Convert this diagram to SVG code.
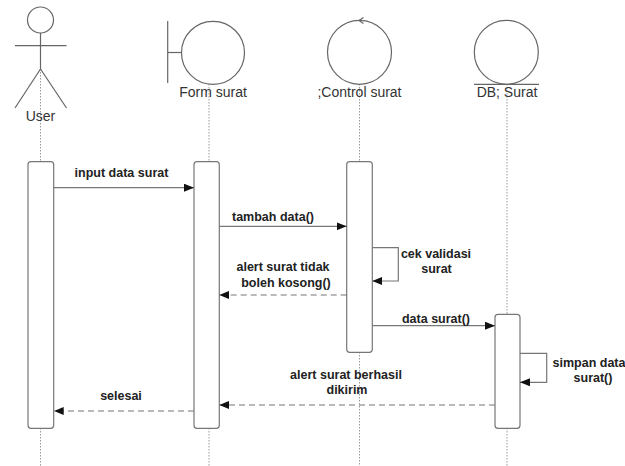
<svg xmlns="http://www.w3.org/2000/svg" width="625" height="466" viewBox="0 0 625 466">
<style>
.bg{fill:#fff}
.icon{fill:none;stroke:#666;stroke-width:1.2}
.life{fill:none;stroke:#999;stroke-width:1;stroke-dasharray:1.5,1.5}
.act{fill:#fff;stroke:#777;stroke-width:1.2}
.name{font-family:"Liberation Sans",Arial,sans-serif;font-size:14px;fill:#333}
.lbl{font-family:"Liberation Sans",Arial,sans-serif;font-size:12.5px;font-weight:bold;fill:#222}
.msg{fill:none;stroke:#777;stroke-width:1.2}
.ret{fill:none;stroke:#777;stroke-width:1.2;stroke-dasharray:6,4}
</style>
<defs>
<marker id="ah" viewBox="0 0 10 8" refX="10" refY="4" markerWidth="10" markerHeight="8" markerUnits="userSpaceOnUse" orient="auto">
<path d="M0,0 L10,4 L0,8 Z" fill="#111"/>
</marker>
</defs>
<rect class="bg" x="0" y="0" width="625" height="466"/>

<g id="lifelines">
<line class="life" x1="40.5" y1="69" x2="40.5" y2="162"/>
<line class="life" x1="40.5" y1="428" x2="40.5" y2="466"/>
<line class="life" x1="209" y1="84" x2="209" y2="162"/>
<line class="life" x1="209" y1="428" x2="209" y2="466"/>
<line class="life" x1="359.5" y1="84" x2="359.5" y2="162"/>
<line class="life" x1="359.5" y1="352" x2="359.5" y2="466"/>
<line class="life" x1="507" y1="84" x2="507" y2="314"/>
<line class="life" x1="507" y1="428" x2="507" y2="466"/>
</g>

<g id="user">
<circle class="icon" cx="40.5" cy="20" r="13"/>
<line class="icon" x1="40.5" y1="33" x2="40.5" y2="69"/>
<line class="icon" x1="15" y1="45.7" x2="66.5" y2="45.7"/>
<line class="icon" x1="40.5" y1="69" x2="15" y2="108"/>
<line class="icon" x1="40.5" y1="69" x2="66.5" y2="108"/>
<text class="name" x="40.5" y="121" text-anchor="middle">User</text>
</g>

<g id="form-surat">
<circle class="icon" cx="213" cy="52.8" r="31.5"/>
<line class="icon" x1="167.7" y1="21" x2="167.7" y2="83"/>
<line class="icon" x1="167.7" y1="52.5" x2="181.5" y2="52.5"/>
<text class="name" x="213" y="97" text-anchor="middle">Form surat</text>
</g>

<g id="control-surat">
<circle class="icon" cx="359.5" cy="52.3" r="32"/>
<path class="icon" d="M363.5,17.5 L359,20.5 L363.5,23.5"/>
<text class="name" x="359.5" y="97" text-anchor="middle">;Control surat</text>
</g>

<g id="db-surat">
<circle class="icon" cx="506.3" cy="52.3" r="32"/>
<line class="icon" x1="474" y1="84.3" x2="539" y2="84.3"/>
<text class="name" x="507" y="97" text-anchor="middle">DB; Surat</text>
</g>

<g id="activations">
<rect class="act" x="28" y="161.7" width="25.7" height="266.6" rx="3"/>
<rect class="act" x="194" y="161.7" width="25.3" height="266.6" rx="3"/>
<rect class="act" x="346.7" y="161.7" width="25.6" height="190.6" rx="3"/>
<rect class="act" x="495" y="314.3" width="25" height="114" rx="3"/>
</g>

<g id="connectors">
<line class="msg" x1="53.7" y1="187.7" x2="194" y2="187.7" marker-end="url(#ah)"/>
<line class="msg" x1="219.3" y1="226.3" x2="346.7" y2="226.3" marker-end="url(#ah)"/>
<path class="msg" d="M372.3,247.7 H398.3 V281 H372.3" marker-end="url(#ah)"/>
<line class="ret" x1="346.7" y1="295" x2="219.3" y2="295" marker-end="url(#ah)"/>
<line class="msg" x1="372.3" y1="325.7" x2="495" y2="325.7" marker-end="url(#ah)"/>
<path class="msg" d="M520,353.3 H546.7 V382.3 H520" marker-end="url(#ah)"/>
<line class="ret" x1="495" y1="405" x2="219.3" y2="405" marker-end="url(#ah)"/>
<line class="ret" x1="194" y1="411" x2="53.7" y2="411" marker-end="url(#ah)"/>
</g>

<g id="labels">
<text class="lbl" x="121.5" y="177" text-anchor="middle">input data surat</text>
<text class="lbl" x="232" y="221">tambah data()</text>
<text class="lbl" x="436" y="258" text-anchor="middle">cek validasi</text>
<text class="lbl" x="436.5" y="273" text-anchor="middle">surat</text>
<text class="lbl" x="283" y="271" text-anchor="middle">alert surat tidak</text>
<text class="lbl" x="286" y="286.5" text-anchor="middle">boleh kosong()</text>
<text class="lbl" x="436" y="322.5" text-anchor="middle">data surat()</text>
<text class="lbl" x="589" y="367" text-anchor="middle">simpan data</text>
<text class="lbl" x="593" y="382" text-anchor="middle">surat()</text>
<text class="lbl" x="346" y="379" text-anchor="middle">alert surat berhasil</text>
<text class="lbl" x="347" y="393.5" text-anchor="middle">dikirim</text>
<text class="lbl" x="121" y="399.5" text-anchor="middle">selesai</text>
</g>
</svg>
